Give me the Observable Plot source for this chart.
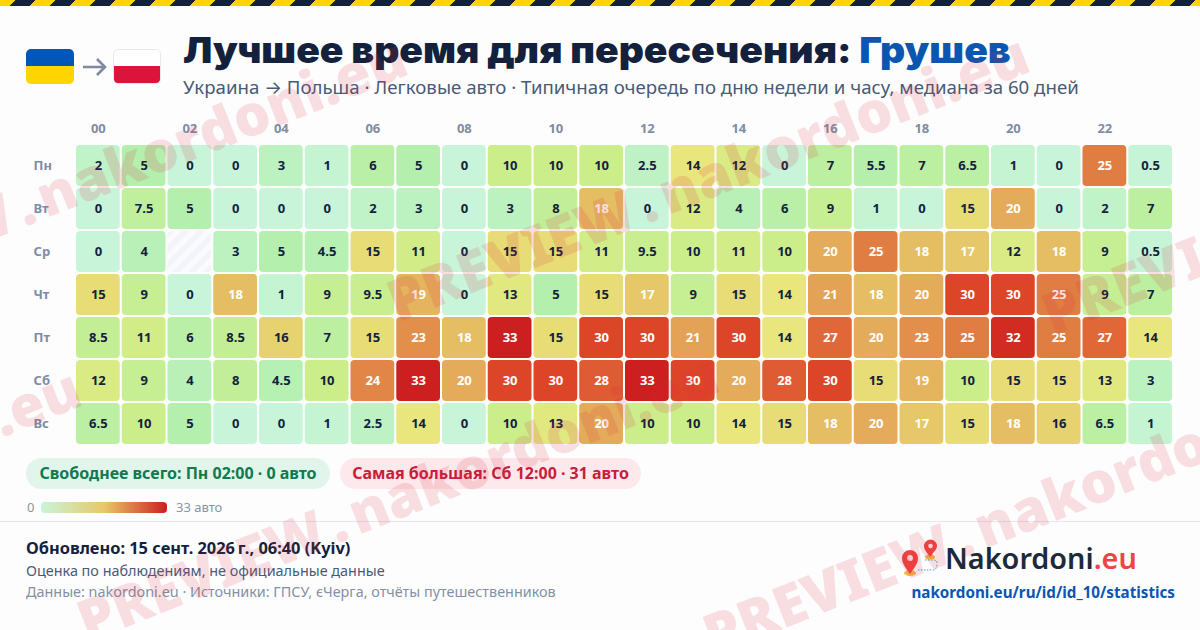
<!DOCTYPE html>
<html lang="ru">
<head>
<meta charset="utf-8">
<script src="https://cdn.jsdelivr.net/npm/d3@7"></script>
<script src="https://cdn.jsdelivr.net/npm/@observablehq/plot@0.6"></script>
<style>
html,body{margin:0;padding:0;background:#fdfdfe;}
body{width:1200px;height:630px;position:relative;overflow:hidden;font-family:"Noto Sans",sans-serif;}
.abs{position:absolute;white-space:nowrap;}
#stripe{left:0;top:0;width:1209px;height:6px;background:repeating-linear-gradient(-45deg,#ffd500 0 14.142px,#14213d 14.142px 28.284px);}
#chart{left:0;top:110px;}
#title{left:183px;top:27px;font:900 36px/46px Inter,sans-serif;color:#14213d;transform-origin:0 50%;transform:scaleX(1.084);}
#title b{color:#0a56b0;font-weight:900;}
#sub{left:183px;top:74px;font-size:18.65px;line-height:26px;color:#4a5a75;}
.flag{width:48px;height:35px;top:49px;border-radius:5px;box-sizing:border-box;}
.pill{top:458px;height:31px;line-height:30px;border-radius:16px;font-size:16px;font-weight:700;text-align:center;}
.wm{font:900 57px/1 "Noto Sans",sans-serif;word-spacing:-8px;color:rgba(222,40,60,.15);transform-origin:0 100%;transform:rotate(-21.6deg);pointer-events:none;}
</style>
</head>
<body>
<svg width="0" height="0" style="position:absolute"><defs>
<pattern id="hatch" width="11" height="11" patternUnits="userSpaceOnUse" patternTransform="rotate(45)">
<rect width="11" height="11" fill="#f3f4fa"/><rect width="5" height="11" fill="#fbfbfe"/>
</pattern></defs></svg>

<div class="abs" id="stripe"></div>
<div class="abs flag" style="left:26px;background:linear-gradient(#0057b8 50%,#ffd500 50%);"></div>
<svg class="abs" style="left:80px;top:54px" width="28" height="26"><path d="M3 13H25M17 5L25 13L17 21" fill="none" stroke="#7d8aa0" stroke-width="2.6"/></svg>
<div class="abs flag" style="left:113px;background:linear-gradient(#fff 50%,#dc143c 50%);border:1px solid #e6e8ee;"></div>
<div class="abs" id="title">Лучшее время для пересечения: <b>Грушев</b></div>
<div class="abs" id="sub">Украина <span style="font-family:Inter">→</span> Польша · Легковые авто · Типичная очередь по дню недели и часу, медиана за 60 дней</div>

<div class="abs" id="chart"></div>

<div class="abs pill" style="left:26px;width:304px;background:#e1f5ea;color:#0f7b4f;">Свободнее всего: Пн 02:00 · 0 авто</div>
<div class="abs pill" style="left:340px;width:301px;background:#fde8ec;color:#c81e3a;">Самая большая: Сб 12:00 · 31 авто</div>
<div class="abs" style="left:27px;top:498px;font-size:13px;line-height:18px;color:#8a94a6;">0</div>
<div class="abs" id="ramp" style="left:41px;top:502px;width:126px;height:11px;border-radius:4px;"></div>
<div class="abs" style="left:176px;top:498px;font-size:13px;line-height:18px;color:#8a94a6;">33 авто</div>
<div class="abs" style="left:0;top:521px;width:1200px;height:1px;background:#e2e6f0;"></div>
<div class="abs" style="left:26px;top:537px;font-size:16.4px;line-height:22px;font-weight:700;color:#14213d;">Обновлено: 15 сент. 2026&#8239;г., 06:40 (Kyiv)</div>
<div class="abs" style="left:26px;top:561px;font-size:14.4px;line-height:20px;color:#4a5a75;">Оценка по наблюдениям, не официальные данные</div>
<div class="abs" style="left:26px;top:582px;font-size:14.4px;line-height:20px;color:#8490a4;">Данные: nakordoni.eu · Источники: ГПСУ, єЧерга, отчёты путешественников</div>

<svg class="abs" style="left:900px;top:538px" width="44" height="40" viewBox="0 0 44 40">
<ellipse cx="10" cy="35" rx="6" ry="3" fill="#f5b942"/>
<path d="M10 36C5 29 2 25 2 20A8 8 0 0 1 18 20C18 25 15 29 10 36Z" fill="#ef4444"/><circle cx="10" cy="20" r="3" fill="#fbcfcf"/>
<ellipse cx="30" cy="19" rx="5" ry="2.5" fill="#f5b942"/>
<path d="M30 19C26 14 24 11 24 8A6.5 6.5 0 0 1 37 8C37 11 34 14 30 19Z" fill="#ef4444"/><circle cx="30.500" cy="8" r="2.300" fill="#fbcfcf"/>
<path d="M25 22H33Q37 22 37 25Q37 32 33 32H18" fill="none" stroke="#38a3d8" stroke-width="1" stroke-dasharray="1.500 1.500"/>
</svg>
<div class="abs" style="left:945px;top:538px;font-size:28.8px;line-height:40px;font-weight:600;color:#1e2a3c;">Nakordoni<span style="color:#ef4444">.eu</span></div>
<div class="abs" style="right:25px;top:581px;font-size:15.2px;line-height:22px;font-weight:700;color:#0a56b0;">nakordoni.eu/ru/id/id_10/statistics</div>

<div class="abs wm" style="left:-222px;top:275px;">PREVIEW . nakordoni.eu</div>
<div class="abs wm" style="left:400px;top:272px;">PREVIEW . nakordoni.eu</div>
<div class="abs wm" style="left:-548px;top:606px;">PREVIEW . nakordoni.eu</div>
<div class="abs wm" style="left:90px;top:592px;">PREVIEW . nakordoni.eu</div>
<div class="abs wm" style="left:716px;top:606px;">PREVIEW . nakordoni.eu</div>
<div class="abs wm" style="left:1055px;top:285px;">PREVIEW . nakordoni.eu</div>

<script>
const days = ["Пн","Вт","Ср","Чт","Пт","Сб","Вс"];
const hours = ["00","01","02","03","04","05","06","07","08","09","10","11","12","13","14","15","16","17","18","19","20","21","22","23"];
const hourTicks = ["00","02","04","06","08","10","12","14","16","18","20","22"];
const mon = [2,5,0,0,3,1,6,5,0,10,10,10,2.5,14,12,0,7,5.5,7,6.5,1,0,25,0.5];
const tue = [0,7.5,5,0,0,0,2,3,0,3,8,18,0,12,4,6,9,1,0,15,20,0,2,7];
const wed = [0,4,null,3,5,4.5,15,11,0,15,15,11,9.5,10,11,10,20,25,18,17,12,18,9,0.5];
const thu = [15,9,0,18,1,9,9.5,19,0,13,5,15,17,9,15,14,21,18,20,30,30,25,9,7];
const fri = [8.5,11,6,8.5,16,7,15,23,18,33,15,30,30,21,30,14,27,20,23,25,32,25,27,14];
const sat = [12,9,4,8,4.5,10,24,33,20,30,30,28,33,30,20,28,30,15,19,10,15,15,13,3];
const sun = [6.5,10,5,0,0,1,2.5,14,0,10,13,20,10,10,14,15,18,20,17,15,18,16,6.5,1];
const colorDomain = [0,5,10,14,18,25,30,33];
const colorRange = ["#c8f5da","#b4efae","#cbee8b","#e8e67c","#e5bd63","#e07d42","#dd4529","#cc1f1f"];
const rampColors = ["#c8f5da","#e8c86a","#cc1f1f"];
const whiteFrom = 17;

const table = [mon,tue,wed,thu,fri,sat,sun].flatMap((row,i)=>row.map((v,j)=>({day:days[i],hour:hours[j],value:v})));
const known = table.filter(d=>d.value!==null);
const missing = table.filter(d=>d.value===null);

const plot = Plot.plot({
  width:1200,height:335,
  marginTop:34,marginBottom:0,marginLeft:75,marginRight:27,
  style:{background:"transparent",fontFamily:"'Noto Sans',sans-serif"},
  x:{domain:hours,padding:0,round:false,axis:null},
  y:{domain:days,padding:0,round:false,axis:null},
  color:{type:"linear",domain:colorDomain,range:colorRange,interpolate:"rgb"},
  marks:[
    Plot.axisX({anchor:"top",ticks:hourTicks,tickSize:0,tickPadding:12,label:null,fill:"#7f8ca3",fontSize:13,fontWeight:700}),
    Plot.axisY({anchor:"left",tickSize:0,tickPadding:42,textAnchor:"start",label:null,fill:"#7f8ca3",fontSize:13,fontWeight:700}),
    Plot.cell(missing,{x:"hour",y:"day",fill:"url(#hatch)",inset:1,rx:4}),
    Plot.cell(known,{x:"hour",y:"day",fill:"value",inset:1,rx:4}),
    Plot.text(known.filter(d=>d.value<whiteFrom),{x:"hour",y:"day",text:"value",fill:"#14213d",fontSize:13,fontWeight:700}),
    Plot.text(known.filter(d=>d.value>=whiteFrom),{x:"hour",y:"day",text:"value",fill:"#ffffff",fontSize:13,fontWeight:700})
  ]
});
document.getElementById("chart").appendChild(plot);
document.getElementById("ramp").style.background="linear-gradient(90deg,"+rampColors.join(",")+")";
</script>
</body>
</html>
